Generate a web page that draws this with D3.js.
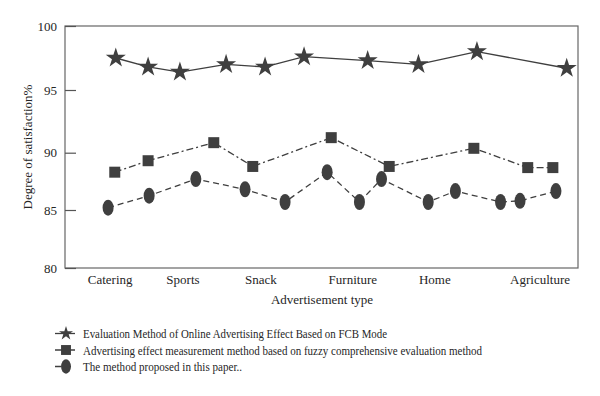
<!DOCTYPE html>
<html>
<head>
<meta charset="utf-8">
<script src="https://cdn.jsdelivr.net/npm/d3@7"></script>
<style>
  body { margin: 0; background: #fff; }
  svg { display: block; font-family: "Liberation Serif", "DejaVu Serif", serif; }
</style>
</head>
<body>
<svg id="chart" width="600" height="396"></svg>
<script>
// x positions are on a 0-100 scale along the axis
const categories = ['Catering', 'Sports', 'Snack', 'Furniture', 'Home', 'Agriculture'];
const categoryPos = [8.8, 23.0, 38.2, 56.1, 72.1, 92.6];
const yTicks = [80, 85, 90, 95, 100];

const fcbX = [9.9, 16.2, 22.4, 31.4, 39.0, 46.6, 59.0, 68.9, 80.3, 97.8];
const fcbY = [97.5, 96.8, 96.4, 97.0, 96.8, 97.6, 97.3, 97.0, 98.0, 96.7];

const fuzzyX = [9.7, 16.2, 29.0, 36.6, 51.9, 63.2, 79.7, 90.2, 95.1];
const fuzzyY = [88.3, 89.3, 90.8, 88.8, 91.2, 88.8, 90.35, 88.7, 88.7];

const oursX = [8.4, 16.4, 25.5, 35.1, 42.9, 51.1, 57.4, 61.7, 70.8, 76.1, 84.9, 88.7, 95.7];
const oursY = [85.2, 86.25, 87.7, 86.8, 85.7, 88.3, 85.7, 87.7, 85.7, 86.65, 85.7, 85.8, 86.65];

const seriesNames = [
    'Evaluation Method of Online Advertising Effect Based on FCB Mode',
    'Advertising effect measurement method based on fuzzy comprehensive evaluation method',
    'The method proposed in this paper..'
];

const ink = '#3f3f3f';
const textInk = '#262626';
const svg = d3.select('#chart');

const marginLeft = 65, marginRight = 22, marginTop = 26;
const plotBottom = 268;

const x = d3.scaleLinear([0, 100], [marginLeft, 600 - marginRight]);
// the printed axis is not evenly spaced, so map each tick separately
const y = d3.scaleLinear(yTicks, [plotBottom, 210, 152.7, 90, marginTop]);

// frame
svg.append('rect')
    .attr('x', marginLeft).attr('y', marginTop)
    .attr('width', x(100) - marginLeft).attr('height', plotBottom - marginTop)
    .attr('fill', 'none').attr('stroke', '#666').attr('stroke-width', 1.2);

// y axis, ticks pointing inward
svg.append('g')
    .attr('transform', `translate(${marginLeft},0)`)
    .call(d3.axisLeft(y).tickValues(yTicks).tickSizeInner(-11).tickSizeOuter(0).tickPadding(8))
    .call(g => g.select('.domain').remove())
    .call(g => g.selectAll('.tick line').attr('stroke', '#555').attr('stroke-width', 1.2))
    .call(g => g.selectAll('.tick text')
        .attr('fill', textInk)
        .attr('font-size', 13)
        .attr('font-family', '"Liberation Serif", serif'));

// x category labels
svg.append('g')
    .selectAll('text')
    .data(categories)
    .join('text')
    .attr('x', (d, i) => x(categoryPos[i]))
    .attr('y', 284)
    .attr('text-anchor', 'middle')
    .attr('font-size', 13)
    .attr('fill', textInk)
    .text(d => d);

svg.append('text')
    .attr('x', 322).attr('y', 304)
    .attr('text-anchor', 'middle')
    .attr('font-size', 13)
    .attr('fill', textInk)
    .text('Advertisement type');

svg.append('text')
    .attr('transform', 'translate(32,147) rotate(-90)')
    .attr('text-anchor', 'middle')
    .attr('font-size', 13)
    .attr('fill', textInk)
    .text('Degree of satisfaction%');

const line = d3.line().x(d => x(d[0])).y(d => y(d[1]));
const starPath = d3.symbol(d3.symbolStar, 125)();
const squarePath = d3.symbol(d3.symbolSquare, 121)();

const series = [
    { xs: fcbX, ys: fcbY, dash: null, marker: 'star' },
    { xs: fuzzyX, ys: fuzzyY, dash: '7,3,2,3', marker: 'square' },
    { xs: oursX, ys: oursY, dash: '6,4', marker: 'ellipse' }
];

function drawMarker(g, type, scale) {
    if (type === 'ellipse') {
        g.append('ellipse').attr('rx', 5.5 * scale).attr('ry', 8 * scale).attr('fill', ink);
    } else {
        g.append('path').attr('d', type === 'star' ? starPath : squarePath)
            .attr('transform', `scale(${scale})`).attr('fill', ink);
    }
}

series.forEach(s => {
    const pts = s.xs.map((v, i) => [v, s.ys[i]]);
    svg.append('path')
        .datum(pts)
        .attr('d', line)
        .attr('fill', 'none')
        .attr('stroke', ink)
        .attr('stroke-width', 1.3)
        .attr('stroke-dasharray', s.dash);
    svg.append('g')
        .selectAll('g')
        .data(pts)
        .join('g')
        .attr('transform', d => `translate(${x(d[0])},${y(d[1])})`)
        .each(function () { drawMarker(d3.select(this), s.marker, 1); });
});

// legend
const legendRows = [333.5, 350, 366.5];
const legendWidths = [304, 399, 159];
series.forEach((s, i) => {
    const g = svg.append('g').attr('transform', `translate(66,${legendRows[i]})`);
    g.append('line')
        .attr('x1', -11).attr('x2', 9)
        .attr('stroke', ink).attr('stroke-width', 1.3)
        .attr('stroke-dasharray', s.dash);
    drawMarker(g, s.marker, s.marker === 'star' ? 0.7 : 0.9);
    g.append('text')
        .attr('x', 17).attr('y', 4.5)
        .attr('font-size', 12.5)
        .attr('fill', textInk)
        .attr('textLength', legendWidths[i])
        .attr('lengthAdjust', 'spacingAndGlyphs')
        .text(seriesNames[i]);
});
</script>
</body>
</html>
